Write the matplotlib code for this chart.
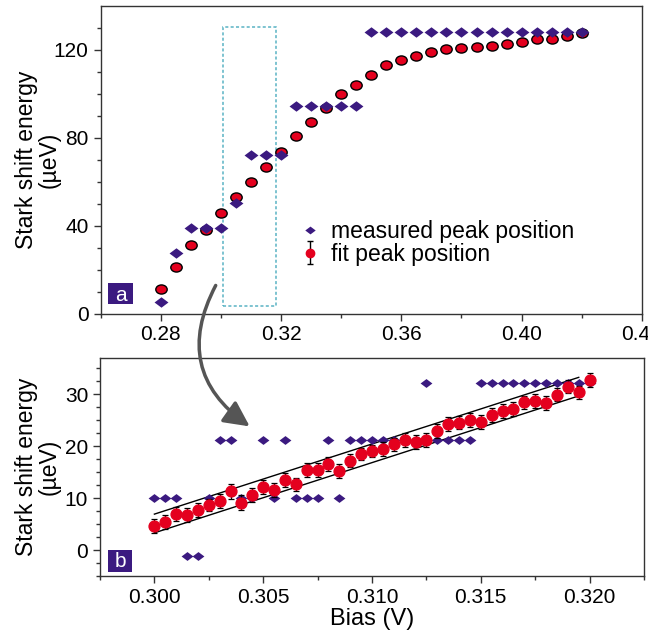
import numpy as np
import matplotlib
matplotlib.use("Agg")
import matplotlib.pyplot as plt
from matplotlib.lines import Line2D
from matplotlib.patches import Rectangle, FancyArrowPatch
from matplotlib.path import Path
from matplotlib.transforms import Affine2D

plt.rcParams['font.family'] = ['Liberation Sans', 'DejaVu Sans']

# panel a: full bias range
topBias = [0.280, 0.285, 0.290, 0.295, 0.300, 0.305, 0.310, 0.315, 0.320, 0.325,
           0.330, 0.335, 0.340, 0.345, 0.350, 0.355, 0.360, 0.365, 0.370, 0.375,
           0.380, 0.385, 0.390, 0.395, 0.400, 0.405, 0.410, 0.415, 0.420]
topMeasured = [5.4, 27.7, 38.8, 38.8, 38.8, 50.2, 72.2, 72.2, 72.2, 94.5,
               94.5, 94.5, 94.5, 94.5, 128.0, 128.0, 128.0, 128.0, 128.0, 128.0,
               128.0, 128.0, 128.0, 128.0, 128.0, 128.0, 128.0, 128.0, 128.0]
topFit = [11.0, 21.3, 31.2, 38.0, 45.6, 52.9, 60.0, 66.6, 73.7, 81.0,
          87.3, 93.4, 99.8, 104.1, 108.5, 113.3, 115.4, 117.4, 118.9, 120.4,
          120.8, 121.5, 122.0, 122.7, 123.8, 125.0, 125.0, 126.4, 127.5]

# panel b: zoom 0.300 - 0.320 V
botBias = [0.3000, 0.3005, 0.3010, 0.3015, 0.3020, 0.3025, 0.3030, 0.3035, 0.3040, 0.3045,
           0.3050, 0.3055, 0.3060, 0.3065, 0.3070, 0.3075, 0.3080, 0.3085, 0.3090, 0.3095,
           0.3100, 0.3105, 0.3110, 0.3115, 0.3120, 0.3125, 0.3130, 0.3135, 0.3140, 0.3145,
           0.3150, 0.3155, 0.3160, 0.3165, 0.3170, 0.3175, 0.3180, 0.3185, 0.3190, 0.3195,
           0.3200]
botMeasured = [10.0, 10.0, 10.0, -1.1, -1.1, 10.0, 21.1, 21.1, 10.0, 10.0,
               21.1, 10.0, 21.1, 10.0, 10.0, 10.0, 21.1, 10.0, 21.1, 21.1,
               21.1, 21.1, 21.1, 21.1, 21.1, 32.2, 21.1, 21.1, 21.1, 21.1,
               32.2, 32.2, 32.2, 32.2, 32.2, 32.2, 32.2, 32.2, 32.2, 32.2,
               32.2]
botFit = [4.6, 5.4, 6.9, 6.7, 7.7, 8.7, 9.4, 11.3, 9.1, 10.6,
          12.1, 11.5, 13.5, 12.6, 15.4, 15.4, 16.5, 15.2, 17.2, 18.5,
          19.0, 19.4, 20.3, 21.2, 20.8, 21.2, 22.9, 24.2, 24.5, 25.0,
          24.6, 26.0, 26.7, 27.1, 28.4, 28.7, 28.3, 29.9, 31.4, 30.3,
          32.7]
botErr = [1.4, 1.3, 1.3, 1.3, 1.3, 1.2, 1.3, 1.4, 1.4, 1.3,
          1.3, 1.3, 1.3, 1.3, 1.3, 1.3, 1.3, 1.3, 1.3, 1.2,
          1.2, 1.3, 1.3, 1.3, 1.3, 1.3, 1.3, 1.3, 1.3, 1.3,
          1.3, 1.3, 1.3, 1.3, 1.3, 1.3, 1.3, 1.3, 1.3, 1.3,
          1.4]
upperBandBias = [0.3000, 0.3195]
upperBandEnergy = [6.9, 33.2]
lowerBandBias = [0.3000, 0.3197]
lowerBandEnergy = [3.3, 29.9]

zoomBias = [0.3006, 0.3185]
zoomEnergy = [3.4, 130.6]

purple = "#3b1a80"
red = "#e4001e"
diamond = [(-1, 0), (0, 0.75), (1, 0), (0, -0.75)]
oval = Path.unit_circle().transformed(Affine2D().scale(1.0, 0.8))


def style_axis(ax):
    for s in ax.spines.values():
        s.set_color("#333333")
        s.set_linewidth(1.0)
    ax.tick_params(which="both", direction="out", top=False, right=False,
                   color="#333333", labelsize=15)
    ax.tick_params(which="major", length=5, width=1)
    ax.tick_params(which="minor", length=3, width=1)


def tag_box(ax, letter, x, y, w, h):
    ax.add_patch(Rectangle((x, y), w, h, transform=ax.transAxes,
                           facecolor=purple, edgecolor="none", zorder=5))
    ax.text(x + w / 2, y + h / 2 - 0.005, letter, transform=ax.transAxes,
            color="white", fontsize=15, ha="center", va="center", zorder=6)


fig = plt.figure(figsize=(6.48, 6.34), dpi=100)
axTop = fig.add_axes([100.5 / 648, 1 - 313.5 / 634, 541.5 / 648, 307.5 / 634])
axBot = fig.add_axes([100 / 648, 1 - 576 / 634, 544 / 648, 218.4 / 634])

# ---- panel a
axTop.plot(topBias, topFit, ls="none", marker=oval, markersize=8.2,
           markerfacecolor=red, markeredgecolor="black", markeredgewidth=1.0, zorder=3)
axTop.plot(topBias, topMeasured, ls="none", marker=diamond, markersize=10,
           color=purple, markeredgewidth=0, zorder=4)
axTop.add_patch(Rectangle((zoomBias[0], zoomEnergy[0]), zoomBias[1] - zoomBias[0],
                          zoomEnergy[1] - zoomEnergy[0], fill=False,
                          edgecolor="#5ab3c4", linewidth=1.1, linestyle=(0, (2, 1.5))))
axTop.set_xlim(0.26, 0.44)
axTop.set_ylim(0, 140)
axTop.set_xticks([0.28, 0.32, 0.36, 0.40, 0.44])
axTop.set_xticklabels(["0.28", "0.32", "0.36", "0.40", "0.44"])
axTop.set_xticks([0.26, 0.30, 0.34, 0.38, 0.42], minor=True)
axTop.set_yticks([0, 40, 80, 120])
axTop.set_yticks([10, 20, 30, 50, 60, 70, 90, 100, 110, 130], minor=True)
style_axis(axTop)
axTop.set_ylabel("Stark shift energy\n(\u00b5eV)", fontsize=16.5, linespacing=1.0)
axTop.yaxis.set_label_coords(-0.073, 0.5)
tag_box(axTop, "a", 0.0139, 0.030, 0.0462, 0.070)

errDummy = axTop.errorbar([np.nan], [np.nan], yerr=[1.0], fmt="o", color=red,
                          markersize=6, ecolor="black", elinewidth=1, capsize=2.5)
diamondHandle = Line2D([], [], ls="none", marker=diamond, markersize=7.5,
                       color=purple, markeredgewidth=0)
axTop.legend(handles=[diamondHandle, errDummy],
             labels=["measured peak position", "fit peak position"],
             loc="upper left", bbox_to_anchor=(0.344, 0.342), frameon=False,
             fontsize=16.5, borderpad=0, handlelength=1.0, handletextpad=0.45,
             labelspacing=0.0)

# ---- panel b
axBot.plot(upperBandBias, upperBandEnergy, color="black", lw=1.0, zorder=2)
axBot.plot(lowerBandBias, lowerBandEnergy, color="black", lw=1.0, zorder=2)
axBot.plot(botBias, botMeasured, ls="none", marker=diamond, markersize=8.5,
           color=purple, markeredgewidth=0, zorder=3)
axBot.errorbar(botBias, botFit, yerr=botErr, fmt="o", color=red, markersize=7.8,
               ecolor="black", elinewidth=0.9, capsize=2.5, capthick=0.9, zorder=4)
axBot.set_xlim(0.2975, 0.3225)
axBot.set_ylim(-5, 37)
axBot.set_xticks([0.300, 0.305, 0.310, 0.315, 0.320])
axBot.set_xticklabels(["0.300", "0.305", "0.310", "0.315", "0.320"])
axBot.set_xticks([0.2975, 0.3025, 0.3075, 0.3125, 0.3175, 0.3225], minor=True)
axBot.set_yticks([0, 10, 20, 30])
axBot.set_yticks([-5, -2.5, 2.5, 5, 7.5, 12.5, 15, 17.5, 22.5, 25, 27.5, 32.5, 35], minor=True)
style_axis(axBot)
axBot.set_xlabel("Bias (V)", fontsize=17, labelpad=1)
axBot.set_ylabel("Stark shift energy\n(\u00b5eV)", fontsize=16.5, linespacing=1.0)
axBot.yaxis.set_label_coords(-0.072, 0.5)
tag_box(axBot, "b", 0.0147, 0.020, 0.044, 0.099)

# arrow from zoom box down to panel b
arrow = FancyArrowPatch((217 / 648, 1 - 283 / 634), (252 / 648, 1 - 428 / 634),
                        transform=fig.transFigure, connectionstyle="arc3,rad=0.45",
                        arrowstyle="-|>,head_length=0.7,head_width=0.35",
                        mutation_scale=22, color="#555555", linewidth=2.5, zorder=10)
fig.patches.append(arrow)

fig.savefig("out.png", dpi=100)
